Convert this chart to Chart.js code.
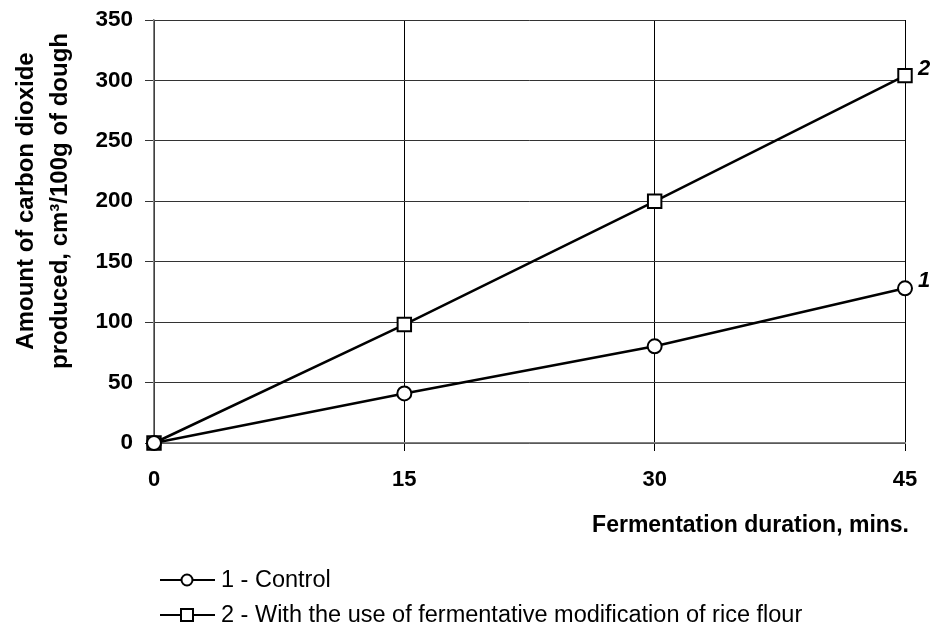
<!DOCTYPE html>
<html>
<head>
<meta charset="utf-8">
<title>Carbon dioxide produced</title>
<script src="https://cdn.jsdelivr.net/npm/chart.js@4/dist/chart.umd.min.js"></script>
<style>
  html, body { margin: 0; padding: 0; background: #fff; }
  #wrap { width: 934px; height: 631px; }
</style>
</head>
<body>
<div id="wrap"><canvas id="charts--line"></canvas></div>
<script>
// Data
const minutes = [0, 15, 30, 45];
const control = [0, 41, 80, 128];
const riceFlour = [0, 98, 200, 304];
const seriesNames = ['1 - Control', '2 - With the use of fermentative modification of rice flour'];
const endLabels = ['1', '2'];
const yTitle = ['Amount of carbon dioxide', 'produced, cm\u00B3/100g of dough'];
const xTitle = 'Fermentation duration, mins.';

const FONT = '"Liberation Sans", Arial, sans-serif';

// Build points for the linear x axis
const toPoints = (vals) => vals.map((v, i) => ({ x: minutes[i], y: v }));

// Titles, end labels and legend drawn on the canvas
const extras = {
  id: 'extras',
  afterDraw: (chart) => {
    const c = chart.ctx;
    const xs = chart.scales.x, ys = chart.scales.y;
    c.save();
    c.fillStyle = '#000';

    // y title, two rotated lines
    c.font = 'bold 24px ' + FONT;
    c.textAlign = 'center';
    c.textBaseline = 'alphabetic';
    c.save();
    c.translate(0, 201);
    c.rotate(-Math.PI / 2);
    c.fillText(yTitle[0], 0, 33);
    c.fillText(yTitle[1], 0, 67);
    c.restore();

    // x title, right aligned
    c.font = 'bold 23px ' + FONT;
    c.textAlign = 'right';
    c.textBaseline = 'middle';
    c.fillText(xTitle, 909, 526);

    // numbers at line ends
    c.font = 'italic bold 22px ' + FONT;
    c.textAlign = 'left';
    chart.data.datasets.forEach((ds, i) => {
      const last = ds.data[ds.data.length - 1];
      c.fillText(endLabels[i], xs.getPixelForValue(last.x) + 13, ys.getPixelForValue(last.y) - 7);
    });

    // legend
    c.font = '23.5px ' + FONT;
    c.textBaseline = 'middle';
    chart.data.datasets.forEach((ds, i) => {
      const y = 580 + i * 35;
      c.strokeStyle = '#000';
      c.lineWidth = 2;
      c.beginPath();
      c.moveTo(160, y);
      c.lineTo(215, y);
      c.stroke();
      c.fillStyle = '#fff';
      c.beginPath();
      if (ds.pointStyle === 'circle') {
        c.arc(187, y, 5.5, 0, Math.PI * 2);
      } else {
        c.rect(181, y - 6, 12, 12);
      }
      c.fill();
      c.stroke();
      c.fillStyle = '#000';
      c.fillText(ds.label, 221, y + 1);
    });
    c.restore();
  }
};

const ctx = document.getElementById('charts--line').getContext('2d');
const chart = new Chart(ctx, {
  type: 'line',
  data: {
    datasets: [{
      label: seriesNames[0],
      data: toPoints(control),
      borderColor: '#000',
      borderWidth: 2.5,
      pointStyle: 'circle',
      pointRadius: 7,
      pointBorderWidth: 2,
      pointBackgroundColor: '#fff',
      pointBorderColor: '#000',
      tension: 0,
      clip: false
    }, {
      label: seriesNames[1],
      data: toPoints(riceFlour),
      borderColor: '#000',
      borderWidth: 2.5,
      pointStyle: 'rect',
      pointRadius: 9.5,
      pointBorderWidth: 2,
      pointBackgroundColor: '#fff',
      pointBorderColor: '#000',
      tension: 0,
      clip: false
    }]
  },
  options: {
    responsive: true,
    maintainAspectRatio: false,
    animation: false,
    layout: { padding: { top: 20, right: 29, left: 0, bottom: 0 } },
    plugins: {
      legend: { display: false },
      tooltip: { enabled: false }
    },
    scales: {
      x: {
        type: 'linear',
        min: 0,
        max: 45,
        ticks: {
          stepSize: 15,
          padding: 16,
          color: '#000',
          font: { family: FONT, size: 22, weight: 'bold' }
        },
        grid: { color: '#000', lineWidth: 1, tickLength: 8 },
        border: { color: '#808080', width: 1.5 },
        afterFit: (scale) => {
          scale.height = 188;
          scale.paddingLeft = 0;
          scale.paddingRight = 0;
        }
      },
      y: {
        min: 0,
        max: 350,
        ticks: {
          stepSize: 50,
          padding: 12,
          color: '#000',
          font: { family: FONT, size: 22.5, weight: 'bold' }
        },
        grid: { color: '#333', lineWidth: 1, tickLength: 9 },
        border: { color: '#808080', width: 1.5 },
        afterFit: (scale) => {
          scale.width = 154;
          scale.paddingTop = 0;
          scale.paddingBottom = 0;
        }
      }
    }
  },
  plugins: [extras]
});
</script>
</body>
</html>
